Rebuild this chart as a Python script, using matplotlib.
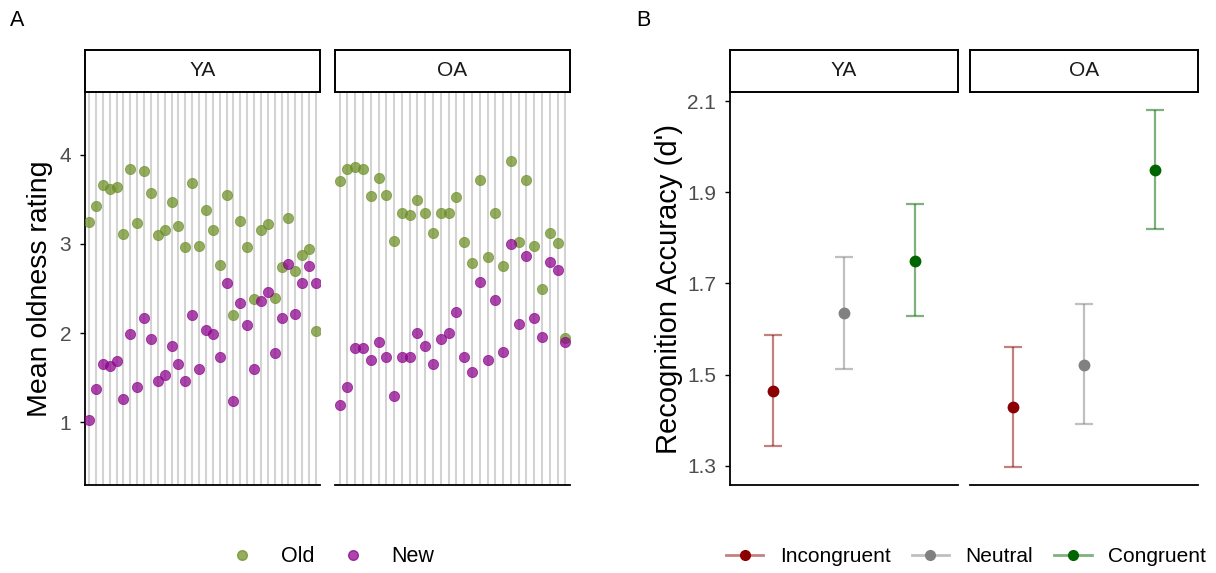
import matplotlib
matplotlib.use("Agg")
import matplotlib.pyplot as plt
from matplotlib.lines import Line2D
import numpy as np

plt.rcParams['font.family'] = ['Liberation Sans', 'DejaVu Sans']

# panel A: mean oldness rating per participant
ya_old = [3.25, 3.42, 3.66, 3.61, 3.64, 3.11, 3.84, 3.23, 3.82, 3.57, 3.10, 3.15,
          3.47, 3.20, 2.97, 3.68, 2.98, 3.38, 3.15, 2.76, 3.55, 2.20, 3.26, 2.97,
          2.38, 3.15, 3.22, 2.39, 2.74, 3.29, 2.70, 2.88, 2.94, 2.02]
ya_new = [1.03, 1.37, 1.66, 1.63, 1.69, 1.26, 1.99, 1.40, 2.17, 1.93, 1.46, 1.53,
          1.86, 1.66, 1.46, 2.20, 1.60, 2.03, 1.99, 1.73, 2.56, 1.24, 2.34, 2.09,
          1.60, 2.36, 2.46, 1.78, 2.17, 2.77, 2.22, 2.56, 2.75, 2.56]
oa_old = [3.70, 3.84, 3.86, 3.84, 3.54, 3.74, 3.55, 3.03, 3.35, 3.32, 3.49, 3.35,
          3.12, 3.35, 3.35, 3.53, 3.02, 2.79, 3.72, 2.85, 3.35, 2.75, 3.93, 3.02,
          3.71, 2.98, 2.49, 3.12, 3.01, 1.95]
oa_new = [1.20, 1.40, 1.83, 1.83, 1.70, 1.90, 1.73, 1.30, 1.73, 1.73, 2.00, 1.86,
          1.65, 1.93, 2.00, 2.24, 1.73, 1.57, 2.57, 1.70, 2.37, 1.79, 3.00, 2.10,
          2.86, 2.17, 1.96, 2.80, 2.71, 1.90]

# panel B: d' with error bars
conditions = ['Incongruent', 'Neutral', 'Congruent']
ya_d = [1.465, 1.636, 1.750]
ya_lo = [1.343, 1.513, 1.628]
ya_hi = [1.588, 1.758, 1.874]
oa_d = [1.428, 1.522, 1.950]
oa_lo = [1.297, 1.391, 1.819]
oa_hi = [1.560, 1.654, 2.081]

groups = ['YA', 'OA']
old_col = '#6B8E23'
new_col = '#8B008B'
cond_cols = ['#8B0000', '#808080', '#006400']

W, H = 1216, 573
fig = plt.figure(figsize=(W / 100, H / 100), dpi=100)


def rect(x0, x1, y0, y1):
    return [x0 / W, 1 - y1 / H, (x1 - x0) / W, (y1 - y0) / H]


def strip(x0, x1, label):
    s = fig.add_axes(rect(x0, x1, 50, 92))
    s.set_xticks([])
    s.set_yticks([])
    for sp in s.spines.values():
        sp.set_linewidth(1.4)
        sp.set_color('black')
    s.text(0.5, 0.5, label, ha='center', va='center', fontsize=15,
           color='#1A1A1A', transform=s.transAxes)


# ---- panel A
a_pos = [(85, 320), (335, 570)]
a_data = [(ya_old, ya_new), (oa_old, oa_new)]
for i, (g, (x0, x1), (old, new)) in enumerate(zip(groups, a_pos, a_data)):
    ax = fig.add_axes(rect(x0, x1, 92, 485))
    n = len(old)
    xs = np.arange(n)
    ax.set_xlim(-0.6, n - 1 + 0.6)
    ax.set_ylim(0.3, 4.7)
    ax.set_xticks(xs)
    ax.set_xticklabels([])
    ax.tick_params(axis='x', length=0)
    ax.set_axisbelow(True)
    ax.grid(axis='x', color='#D3D3D3', linewidth=1.5)
    ax.scatter(xs, old, s=54, color=old_col, alpha=0.72, edgecolors=old_col,
               linewidths=0.6, zorder=3)
    ax.scatter(xs, new, s=54, color=new_col, alpha=0.72, edgecolors=new_col,
               linewidths=0.6, zorder=3)
    ax.spines['top'].set_visible(False)
    ax.spines['right'].set_visible(False)
    ax.spines['bottom'].set_linewidth(1.3)
    if i == 0:
        ax.set_yticks([1, 2, 3, 4])
        ax.tick_params(axis='y', length=3.5, width=1, pad=6.5, labelsize=15,
                       labelcolor='#4D4D4D')
        ax.spines['left'].set_linewidth(1.3)
        ax.set_ylabel('Mean oldness rating', fontsize=20.5, labelpad=5)
    else:
        ax.spines['left'].set_visible(False)
        ax.set_yticks([])
    strip(x0, x1, g)

# ---- panel B
b_pos = [(730, 958), (970, 1198)]
b_data = [(ya_d, ya_lo, ya_hi), (oa_d, oa_lo, oa_hi)]
all_lo = min(ya_lo + oa_lo)
all_hi = max(ya_hi + oa_hi)
pad = (all_hi - all_lo) * 0.05
for i, (g, (x0, x1), (d, lo, hi)) in enumerate(zip(groups, b_pos, b_data)):
    ax = fig.add_axes(rect(x0, x1, 92, 485))
    for j, c in enumerate(cond_cols):
        ax.errorbar([j + 1], [d[j]], yerr=[[d[j] - lo[j]], [hi[j] - d[j]]],
                    fmt='none', ecolor=c, alpha=0.5, elinewidth=1.6,
                    capsize=6.5, capthick=1.6)
        ax.plot([j + 1], [d[j]], 'o', color=c, markersize=7.5, zorder=3)
    ax.set_xlim(0.4, 3.6)
    ax.set_ylim(all_lo - pad, all_hi + pad)
    ax.set_xticks([])
    ax.spines['top'].set_visible(False)
    ax.spines['right'].set_visible(False)
    ax.spines['bottom'].set_linewidth(1.3)
    if i == 0:
        ax.set_yticks([1.3, 1.5, 1.7, 1.9, 2.1])
        ax.tick_params(axis='y', length=3.5, width=1, pad=6.5, labelsize=15,
                       labelcolor='#4D4D4D')
        ax.spines['left'].set_linewidth(1.3)
        ax.set_ylabel("Recognition Accuracy (d')", fontsize=21, labelpad=3)
    else:
        ax.spines['left'].set_visible(False)
        ax.set_yticks([])
    strip(x0, x1, g)

# ---- legends
hA = [Line2D([], [], ls='none', marker='o', markersize=7, color=old_col, alpha=0.72),
      Line2D([], [], ls='none', marker='o', markersize=7, color=new_col, alpha=0.72)]
fig.legend(hA, ['Old', 'New'], loc='center', bbox_to_anchor=(330 / W, 1 - 557 / H),
           ncol=2, frameon=False, fontsize=15.5, handlelength=1.5, columnspacing=1.05,
           handletextpad=1.05)

hB = []
for c in cond_cols:
    rgb = matplotlib.colors.to_rgb(c)
    hB.append(Line2D([], [], color=rgb + (0.5,), lw=2, marker='o', markersize=7,
                     markerfacecolor=c, markeredgecolor=c))
fig.legend(hB, conditions, loc='center', bbox_to_anchor=(966 / W, 1 - 557 / H),
           ncol=3, frameon=False, fontsize=15, handlelength=1.8, columnspacing=1.0,
           handletextpad=0.8)

fig.text(10 / W, 1 - 20 / H, 'A', fontsize=15.5, va='center', ha='left')
fig.text(636 / W, 1 - 20 / H, 'B', fontsize=15.5, va='center', ha='left')

fig.savefig('out.png', dpi=100)
